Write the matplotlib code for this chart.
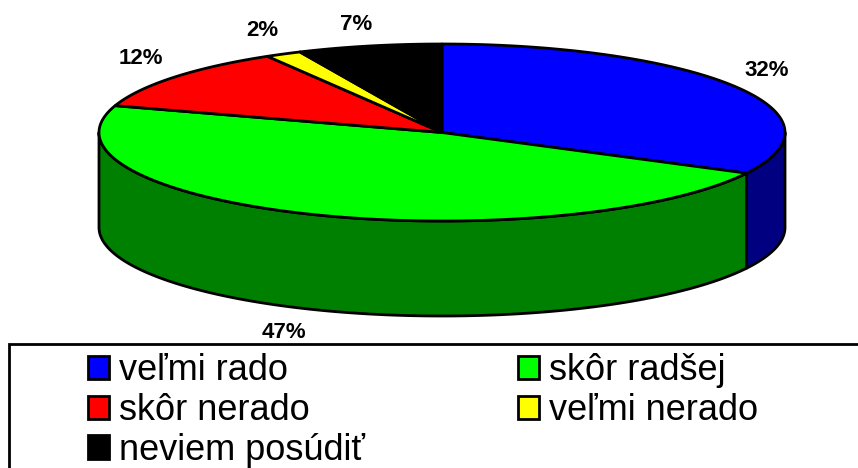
#!/usr/bin/env python3
"""Pseudo-3D pie of survey answers with a legend box cut off by the image edge."""

import numpy as np
import matplotlib
matplotlib.use('Agg')
import matplotlib.pyplot as plt
import matplotlib.patches as mpatches

plt.rcParams['font.family'] = ['Liberation Sans', 'DejaVu Sans']

categories = ['veľmi rado', 'skôr radšej', 'skôr nerado', 'veľmi nerado', 'neviem posúdiť']
values = [32.6, 47.3, 11.6, 1.7, 6.8]
value_labels = ['32%', '47%', '12%', '2%', '7%']
top_colors = ['#0000FF', '#00FF00', '#FF0000', '#FFFF00', '#000000']
side_colors = ['#000080', '#008000', '#800000', '#808000', '#000000']

# pie geometry, in image pixels
CX, CY = 442, 132.5
RX, RY = 343, 88.5
DEPTH = 95
LABEL_POS = [(767, 71), (284, 333), (141, 58), (262, 31), (356, 24)]


def rim(t0, t1, dy=0):
    # t is the clockwise angle from 12 o'clock, in degrees
    t = np.radians(np.linspace(t0, t1, max(int(abs(t1 - t0)) * 2, 2)))
    return np.column_stack([CX + RX * np.sin(t), CY + dy - RY * np.cos(t)])


fig = plt.figure(figsize=(8.58, 4.68), dpi=100)
ax = fig.add_axes([0, 0, 1, 1])
ax.set_xlim(0, 858)
ax.set_ylim(468, 0)
ax.axis('off')

edges = np.concatenate([[0], np.cumsum(values)]) / sum(values) * 360

# side wall, only the front half (90..270 deg) can be seen
for i in range(len(values)):
    t0, t1 = max(edges[i], 90), min(edges[i + 1], 270)
    if t1 > t0:
        pts = np.vstack([rim(t0, t1), rim(t0, t1, DEPTH)[::-1]])
        ax.add_patch(mpatches.Polygon(pts, closed=True, facecolor=side_colors[i],
                                      edgecolor='black', linewidth=2, joinstyle='round'))

# top face
for i in range(len(values)):
    pts = np.vstack([[CX, CY], rim(edges[i], edges[i + 1])])
    ax.add_patch(mpatches.Polygon(pts, closed=True, facecolor=top_colors[i],
                                  edgecolor='black', linewidth=2, joinstyle='round'))

for (x, y), lab in zip(LABEL_POS, value_labels):
    ax.text(x, y, lab, ha='center', va='center', fontsize=16, fontweight='bold', color='black')

# legend frame runs off the right and bottom of the image
ax.add_patch(mpatches.Rectangle((9, 344), 900, 160, facecolor='white', edgecolor='black',
                                linewidth=2, zorder=3))

handles = [mpatches.Patch(facecolor=c, edgecolor='black', linewidth=2) for c in top_colors]
order = [0, 2, 4, 1, 3]
leg = ax.legend([handles[i] for i in order], [categories[i] for i in order],
                ncol=2, loc='upper left', bbox_to_anchor=(88 / 858, 1 - 353.5 / 468),
                frameon=False, fontsize=26, handlelength=0.58, handleheight=0.62,
                handletextpad=0.27, columnspacing=4.25, labelspacing=0.13, borderpad=0,
                borderaxespad=0)
leg.set_zorder(4)

fig.savefig('out.png', dpi=100)
